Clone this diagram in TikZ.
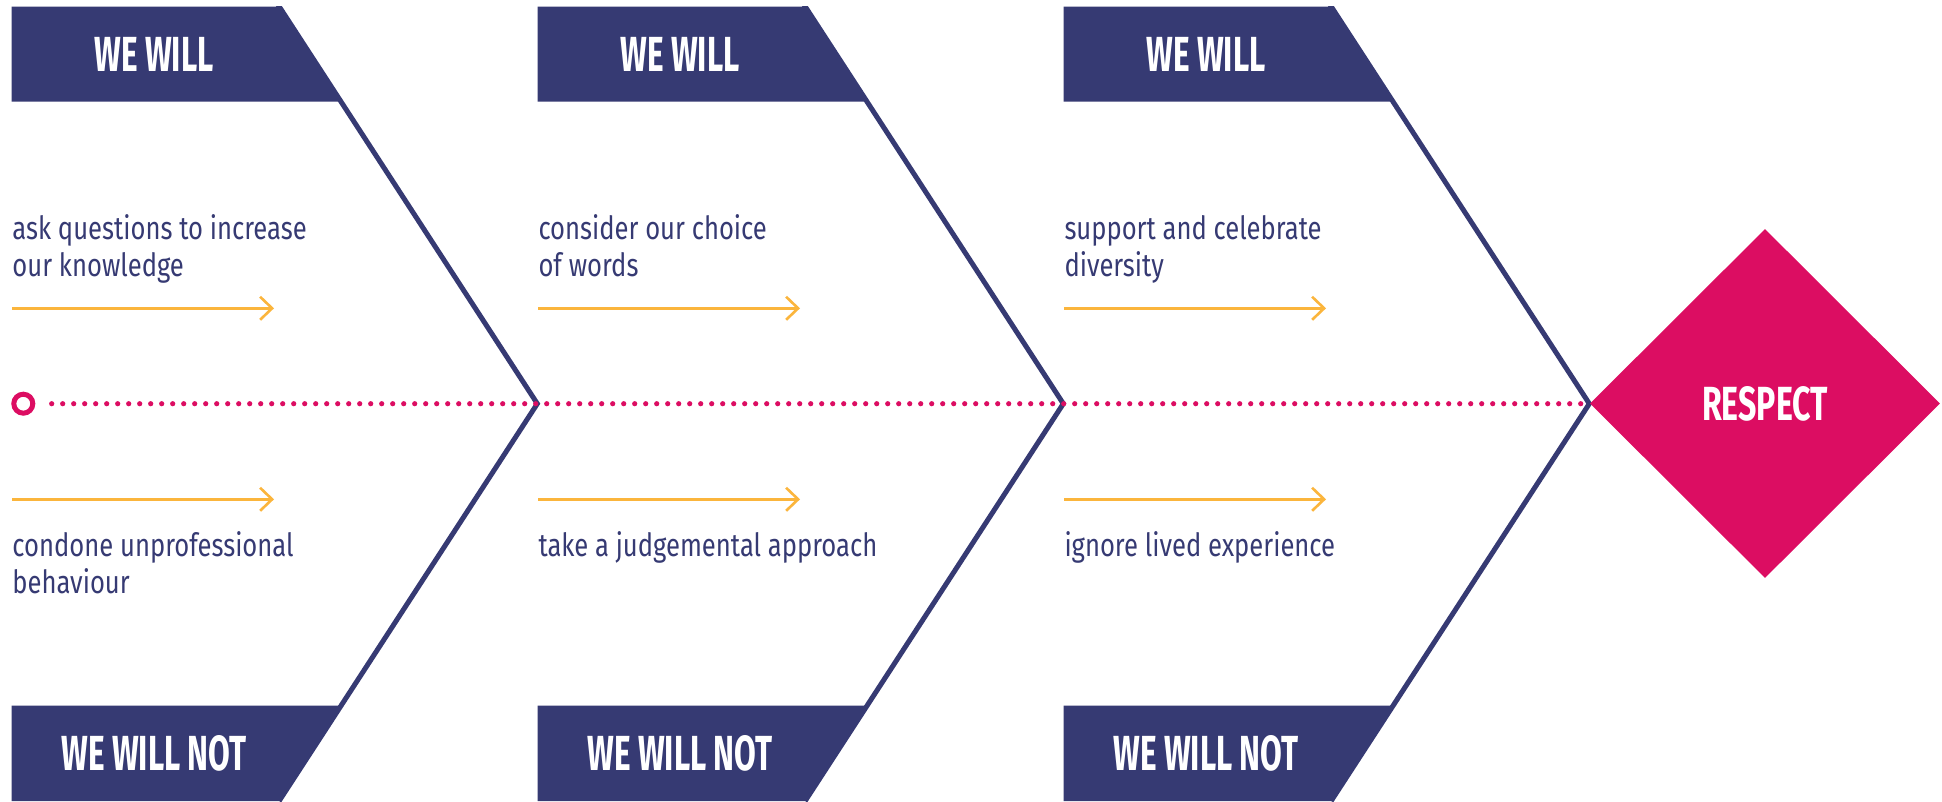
\documentclass[tikz,border=0pt]{standalone}
\usepackage{fontspec}
\setmainfont{Fira Sans}
\newfontfamily\headfont[FakeStretch=0.64]{Fira Sans}
\newfontfamily\goalfont[FakeStretch=0.67]{Fira Sans}
\newfontfamily\bodyfont[FakeStretch=0.8]{Fira Sans}
\usetikzlibrary{arrows.meta,shapes.geometric,calc}
\definecolor{navy}{HTML}{363A73}
\definecolor{mag}{HTML}{DC0D62}
\definecolor{amber}{HTML}{FBB53C}
\tikzset{
  tab/.style={fill=navy, draw=none},
  chev/.style={draw=navy, line width=5pt, line join=miter},
  headtxt/.style={text=white, font=\headfont\bfseries\fontsize{49.3}{50}\selectfont, inner sep=0},
  bodytxt/.style={text=navy, font=\bodyfont\fontsize{32}{36.7}\selectfont, align=left, anchor=base west, inner sep=0},
  arr/.style={draw=amber, line width=2.6pt, -{Straight Barb[length=12pt,width=23pt]}},
  dots/.style={draw=mag, line width=5.2pt, line cap=round, dash pattern=on 0pt off 11pt},
  ring/.style={circle, draw=mag, line width=5pt, minimum size=19pt, inner sep=0},
  goal/.style={diamond, fill=mag, minimum width=350pt, minimum height=349pt, inner sep=0, text=white, font=\goalfont\bfseries\fontsize{47.9}{48}\selectfont}
}
\begin{document}
\begin{tikzpicture}[x=1pt,y=-1pt]
\useasboundingbox (0,0) rectangle (1942,801);
\fill[white] (0,0) rectangle (1942,801);
\foreach \i in {0,1,2}{
  \pgfmathsetmacro\o{526*\i}
  \coordinate (T\i) at ({279.3+\o},6.7);
  \coordinate (V\i) at ({537.3+\o},403.7);
  \coordinate (B\i) at ({279.1+\o},801);
  \coordinate (As\i) at ({12.3+\o},308.3);
  \coordinate (Ae\i) at ({274+\o},308.3);
  \coordinate (Bs\i) at ({12.3+\o},499.3);
  \coordinate (Be\i) at ({274+\o},499.3);
  \fill[tab] ({11.7+\o},6.7) -- (T\i) -- ({341+\o},101.7) -- ({11.7+\o},101.7) -- cycle;
  \fill[tab] ({11.7+\o},705.7) -- ({341+\o},705.7) -- (B\i) -- ({11.7+\o},801) -- cycle;
  \begin{scope}
    \clip (0,6.7) rectangle (1942,801);
    \draw[chev] ($(T\i)+(-1.3,-2)$) -- (V\i) -- (B\i);
  \end{scope}
  \node[headtxt] (hw\i) at ({154+\o},54.2) {WE WILL};
  \node[headtxt] (hn\i) at ({154+\o},753) {WE WILL NOT};
  \draw[arr] (As\i) -- (Ae\i);
  \draw[arr] (Bs\i) -- (Be\i);
}
\node[bodytxt] (w0) at (12.3,276) {ask questions to increase\\our knowledge};
\node[bodytxt] (n0) at (12.3,593.3) {condone unprofessional\\behaviour};
\node[bodytxt] (w1) at (538.3,276) {consider our choice\\of words};
\node[bodytxt] (n1) at (538.3,556) {take a judgemental approach};
\node[bodytxt] (w2) at (1064.3,276) {support and celebrate\\diversity};
\node[bodytxt] (n2) at (1064.3,556) {ignore lived experience};
\coordinate (D) at (51.7,403.7);
\draw[dots] (D) -- (V2);
\node[ring] (start) at (23.3,403.7) {};
\node[goal] (respect) at (1765,403.5) {RESPECT};
\end{tikzpicture}
\end{document}
